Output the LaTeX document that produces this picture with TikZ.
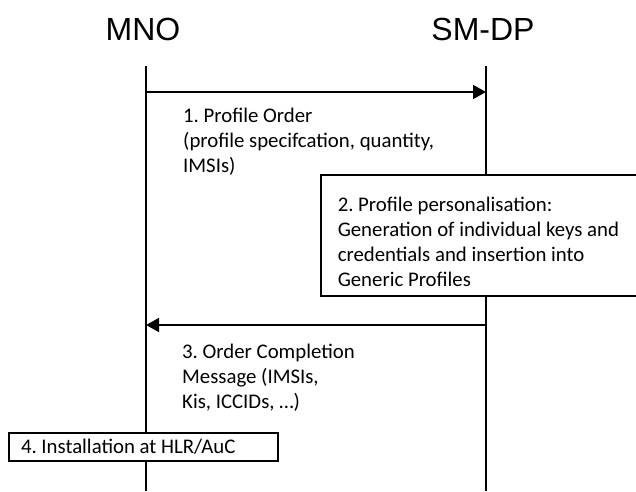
\documentclass[tikz,border=0pt]{standalone}
\usepackage{fontspec}
\setmainfont{Carlito}
\newfontfamily\headfont{Liberation Sans}
\usetikzlibrary{arrows.meta}
\tikzset{party/.style={font=\headfont\fontsize{32}{36}\selectfont,inner sep=0pt},
life line/.style={line width=1.5pt},
msg/.style={line width=1.5pt,-{Triangle[length=13pt,width=14pt]}},
msg text/.style={font=\fontsize{20.8}{25}\selectfont,align=left,anchor=base west,inner sep=0pt},
step box/.style={draw,line width=1.5pt,fill=white,font=\fontsize{20.8}{25}\selectfont,align=flush left,inner ysep=0pt},}

\begin{document}
\frenchspacing
\begin{tikzpicture}[x=1pt,y=-1pt]
	\useasboundingbox (0,0) rectangle (636,491);

    % parties and their life lines
    \node[party] (mno) at (143,29) {MNO};
    \node[party] (smdp) at (483,29) {SM-DP};
    \coordinate (mno top) at (146,66);
    \coordinate (mno bottom) at (146,491);
    \coordinate (smdp top) at (486,66);
    \coordinate (smdp bottom) at (486,491);
    \draw[life line] (mno top) -- (mno bottom);
    \draw[life line] (smdp top) -- (smdp bottom);

    % 1. profile order
    \coordinate (m1) at (146,92);
    \coordinate (s1) at (486,92);
    \draw[msg] (m1) -- (s1);
    \node[msg text] (order) at (183,172) {1. Profile Order\\(profile specifcation, quantity,\\IMSIs)};

    % 2. personalisation
    \node[step box,anchor=north west,minimum height=121pt,text width=300pt,inner xsep=17pt] (perso) at (320,174)
    {\rule{0pt}{27pt}2. Profile personalisation:\\Generation of individual keys and\\credentials and insertion into\\Generic Profiles};

    % 3. order completion
    \coordinate (s3) at (486,325);
    \coordinate (m3) at (146,325);
    \draw[msg] (s3) -- (m3);
    \node[msg text] (completion) at (182,408) {3. Order Completion\\Message (IMSIs,\\Kis, ICCIDs, …)};

    % 4. installation
    \node[step box,minimum height=28pt,text width=245pt,inner xsep=12pt] (install) at (143.5,447) {4. Installation at HLR/AuC};
\end{tikzpicture}
\end{document}
